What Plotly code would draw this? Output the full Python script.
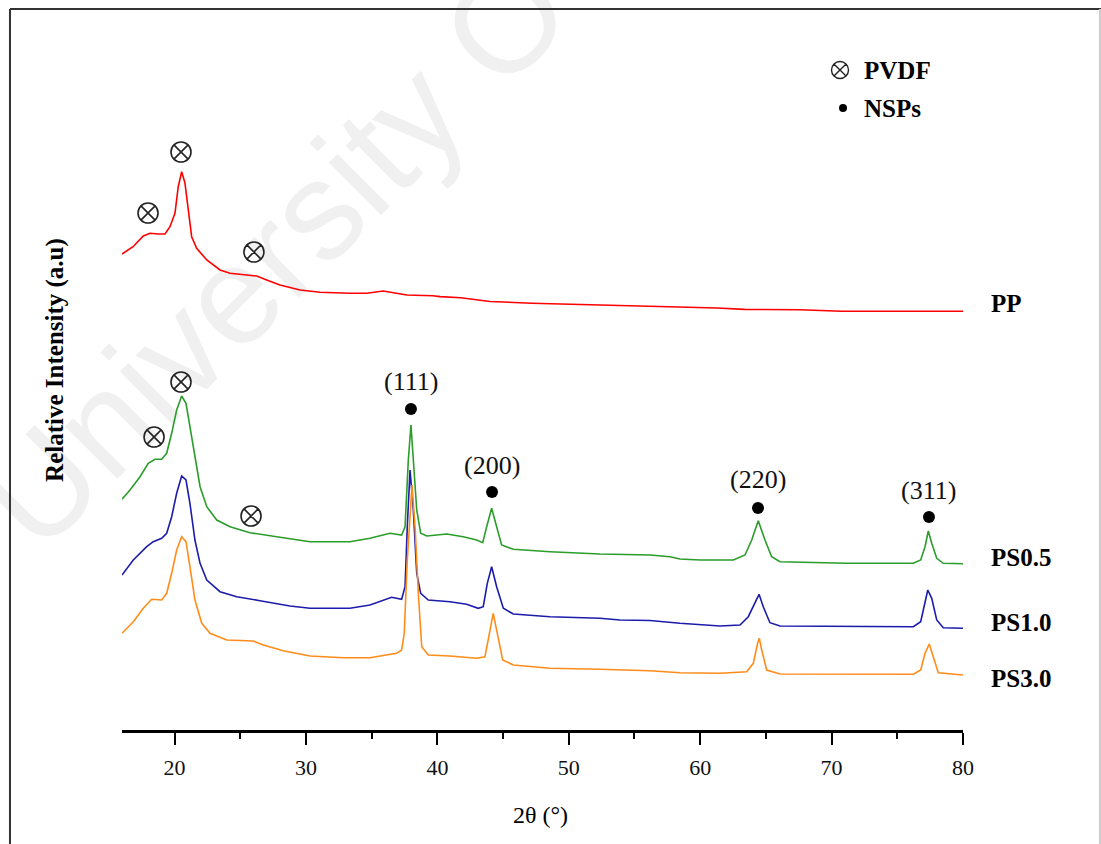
import plotly.graph_objects as go

# ---------------- data (2theta in degrees, relative intensity a.u.) ----------------
pp_x = [16.0, 16.84, 17.62, 18.13, 18.76, 19.27, 19.65, 20.03, 20.28, 20.54, 20.79, 21.05, 21.30, 21.68,
        22.45, 23.46, 24.22, 25.49, 26.25, 27.01, 28.02, 29.55, 31.07, 33.35, 34.62, 35.88, 36.65, 37.67,
        39.67, 40.20, 41.78, 42.83, 44.00, 47.18, 51.77, 54.43, 57.32, 61.28, 63.37, 67.59, 70.74, 80.0]
pp_y = [476, 483.3, 494, 496.7, 496, 496, 503.3, 516.7, 543.3, 558.3, 547, 516.7, 493.3, 481.7,
        470, 460, 456.7, 455, 454, 450, 445, 440, 437.7, 436.7, 436.7, 439, 437.3, 435,
        434.3, 433.4, 432.3, 430.2, 428.5, 426.8, 425.4, 424.4, 423.3, 422, 420.6, 420.2, 418.8, 418.8]

ps05_x = [16.0, 16.61, 17.37, 18.0, 18.51, 19.02, 19.40, 19.78, 20.16, 20.54, 20.87, 21.17, 21.55, 21.94,
          22.45, 23.21, 24.22, 25.74, 27.77, 30.31, 33.35, 34.87, 36.39, 37.28, 37.54, 37.79, 37.99, 38.17,
          38.43, 38.73, 39.19, 40.71, 41.97, 42.99, 43.45, 43.75, 44.13, 44.51, 44.89, 45.78, 48.57, 52.37,
          56.18, 57.70, 58.46, 59.98, 62.52, 63.41, 63.92, 64.42, 64.93, 65.44, 66.07, 71.15, 76.22, 76.78,
          77.11, 77.36, 77.62, 78.0, 78.50, 80.0]
ps05_y = [230.7, 240, 253.3, 266.7, 270.7, 270.7, 276.7, 296.7, 320, 334, 326.7, 303.3, 270, 243.3,
          223.3, 210, 203.3, 197.3, 193.3, 188.3, 188.3, 191.7, 196.7, 195, 203.3, 270, 305, 270,
          220, 196.7, 194, 196, 193.3, 190, 187.3, 203.3, 221.7, 203.3, 185, 180.7, 178.3, 176,
          175, 173.3, 171, 170, 170, 175, 190, 209.3, 190, 173.3, 168.3, 166.7, 166.7, 170,
          183.3, 199, 186.7, 171.7, 166.7, 166.3]

ps10_x = [16.0, 16.86, 17.88, 18.38, 19.02, 19.40, 19.78, 20.16, 20.54, 20.87, 21.17, 21.55, 21.94, 22.45,
          23.46, 24.73, 26.50, 28.78, 30.31, 33.35, 34.87, 36.52, 37.28, 37.54, 37.71, 37.92, 38.17, 38.43,
          38.73, 39.31, 40.96, 42.23, 43.11, 43.49, 43.80, 44.13, 44.51, 45.02, 45.78, 48.57, 52.37, 53.90,
          56.18, 58.46, 61.51, 63.03, 63.66, 64.17, 64.48, 64.80, 65.31, 66.07, 71.15, 76.22, 76.78, 77.11,
          77.32, 77.62, 78.0, 78.50, 80.0]
ps10_y = [155, 170, 183.3, 188.3, 191.7, 196.7, 213.3, 236.7, 254, 250, 226.7, 190, 166.7, 150,
          138.3, 133.3, 129.3, 124, 121.7, 121.7, 125, 132.7, 130.7, 143.3, 203.3, 260, 220, 156.7,
          136.7, 130, 128.3, 125.7, 121.7, 123.3, 146.7, 163.3, 143.3, 121.7, 116, 113.3, 111.7, 110,
          109.5, 106.7, 104, 105, 113.3, 128.3, 135.7, 123.3, 107.3, 104, 103.3, 103.3, 108.3, 126.7,
          140, 131.7, 110, 102.3, 101.7]

ps30_x = [16.0, 16.86, 17.62, 18.26, 19.02, 19.40, 19.78, 20.16, 20.54, 20.87, 21.17, 21.55, 22.07, 22.70,
          23.97, 25.99, 26.75, 28.27, 30.31, 32.84, 34.87, 36.90, 37.28, 37.48, 37.71, 37.92, 38.07, 38.30,
          38.55, 38.81, 39.31, 40.96, 42.99, 43.62, 43.95, 44.25, 44.56, 44.97, 45.78, 48.57, 52.37, 56.18,
          58.46, 61.51, 63.54, 64.04, 64.37, 64.50, 64.68, 65.06, 66.07, 71.15, 76.22, 76.78, 77.11, 77.43,
          77.74, 78.12, 80.0]
ps30_y = [96.7, 108.3, 121.7, 130.7, 130, 136.7, 156.7, 180, 193.3, 188.3, 163.3, 130, 106.7, 96.7,
          90, 89, 85, 79.3, 74, 72.3, 72.3, 76.7, 80, 96.7, 170, 220, 245, 203.3,
          136.7, 83.3, 75, 74, 71.7, 73.3, 96.7, 116.7, 96.7, 70, 65, 61.7, 60.7, 59.3,
          57.3, 56.7, 58.3, 66.7, 86.7, 91.7, 80, 60, 56, 55.7, 55.7, 60, 76.7, 86,
          73.3, 57.3, 55]

series_names = ["PP", "PS0.5", "PS1.0", "PS3.0"]
series_colors = ["#ff0000", "#2a9d2a", "#1c1cab", "#ff8c1a"]
series_label_y = [427, 173, 108, 52]

# PVDF reflection markers (⊗)
pvdf_x = [17.98, 20.49, 26.04, 18.44, 20.49, 25.82]
pvdf_y = [517, 578, 478, 293, 348, 214]
# NSPs (fcc) reflection markers (•) with Miller indices
nsp_x = [37.99, 44.16, 64.40, 77.41]
nsp_y = [321, 238, 222, 213]
hkl_labels = ["(111)", "(200)", "(220)", "(311)"]
hkl_y = [349, 265, 251, 240]

tick_vals = [20, 30, 40, 50, 60, 70, 80]
tick_text = ["20", "30", "40", "50", "60", "70", "80"]

SERIF = "Liberation Serif, Times New Roman, serif"

fig = go.Figure()

xs = [pp_x, ps05_x, ps10_x, ps30_x]
ys = [pp_y, ps05_y, ps10_y, ps30_y]
for name, color, x, y in zip(series_names, series_colors, xs, ys):
    fig.add_trace(go.Scatter(x=x, y=y, mode="lines", name=name,
                             line=dict(color=color, width=1.6), showlegend=False))

fig.add_trace(go.Scatter(x=pvdf_x, y=pvdf_y, mode="markers", showlegend=False,
                         marker=dict(symbol="circle-x-open", size=20, color="#222222",
                                     line=dict(color="#222222", width=1.6))))
fig.add_trace(go.Scatter(x=nsp_x, y=nsp_y, mode="markers", showlegend=False,
                         marker=dict(symbol="circle", size=12, color="#000000")))

# in-plot key
fig.add_trace(go.Scatter(x=[70.64], y=[660], mode="markers", showlegend=False,
                         marker=dict(symbol="circle-x-open", size=17, color="#222222",
                                     line=dict(color="#222222", width=1.4))))
fig.add_trace(go.Scatter(x=[70.87], y=[622], mode="markers", showlegend=False,
                         marker=dict(symbol="circle", size=8, color="#000000")))

annotations = []
for t, x, y in zip(hkl_labels, nsp_x, hkl_y):
    annotations.append(dict(x=x, y=y, xref="x", yref="y", text=t, showarrow=False,
                            font=dict(family=SERIF, size=26, color="#111111"),
                            xanchor="center", yanchor="middle"))
# series labels to the right of the plotting area (paper x so they are not hidden)
for name, y in zip(series_names, series_label_y):
    annotations.append(dict(x=1.031, y=y, xref="paper", yref="y", text="<b>%s</b>" % name,
                            showarrow=False, font=dict(family=SERIF, size=25, color="#000000"),
                            xanchor="left", yanchor="middle"))
annotations.append(dict(x=72.3, y=660, xref="x", yref="y", text="<b>PVDF</b>", showarrow=False,
                        font=dict(family=SERIF, size=25, color="#000000"), xanchor="left", yanchor="middle"))
annotations.append(dict(x=72.3, y=622, xref="x", yref="y", text="<b>NSPs</b>", showarrow=False,
                        font=dict(family=SERIF, size=25, color="#000000"), xanchor="left", yanchor="middle"))
# axis titles
annotations.append(dict(x=0.498, y=-0.118, xref="paper", yref="paper", text="2θ (°)", showarrow=False,
                        font=dict(family=SERIF, size=24, color="#000000"), xanchor="center", yanchor="middle"))
annotations.append(dict(x=-0.0797, y=0.514, xref="paper", yref="paper", text="<b>Relative Intensity (a.u)</b>",
                        showarrow=False, textangle=-90,
                        font=dict(family=SERIF, size=25, color="#000000"), xanchor="center", yanchor="middle"))

shapes = [
    # faint watermark, below the traces
    dict(type="rect", xref="paper", yref="paper", x0=0.11, x1=0.23, y0=0.63, y1=0.72,
         line=dict(width=0), fillcolor="rgba(0,0,0,0)", layer="below",
         label=dict(text="University O", textangle=-45, textposition="middle center",
                    font=dict(family="Liberation Sans, Arial, sans-serif", size=140, color="#f0f0f0"))),
    # frame
    dict(type="line", xref="paper", yref="paper", x0=-0.1332, x1=-0.1332, y0=-0.2, y1=1.0014,
         line=dict(color="#333333", width=2)),
    dict(type="line", xref="paper", yref="paper", x0=-0.1332, x1=1.2, y0=1.0014, y1=1.0014,
         line=dict(color="#333333", width=2)),
    dict(type="line", xref="paper", yref="paper", x0=1.1629, x1=1.1629, y0=-0.2, y1=1.0014,
         line=dict(color="#cccccc", width=2)),
]

fig.update_layout(
    width=1101, height=844,
    margin=dict(l=122, r=138, t=10, b=114),
    paper_bgcolor="white", plot_bgcolor="rgba(0,0,0,0)",
    annotations=annotations, shapes=shapes, showlegend=False,
    xaxis=dict(range=[16, 80], showgrid=False, zeroline=False, showline=True, linecolor="black",
               linewidth=2.5, ticks="outside", ticklen=12, tickwidth=2, tickcolor="black",
               tickvals=tick_vals, ticktext=tick_text, ticklabelstandoff=4,
               tickfont=dict(family=SERIF, size=22, color="#111111"),
               minor=dict(dtick=5, tick0=0, ticks="outside", ticklen=6, tickwidth=2, tickcolor="black"),
               fixedrange=True),
    yaxis=dict(range=[0, 720], visible=False, fixedrange=True),
)

fig.write_html("out.html")
